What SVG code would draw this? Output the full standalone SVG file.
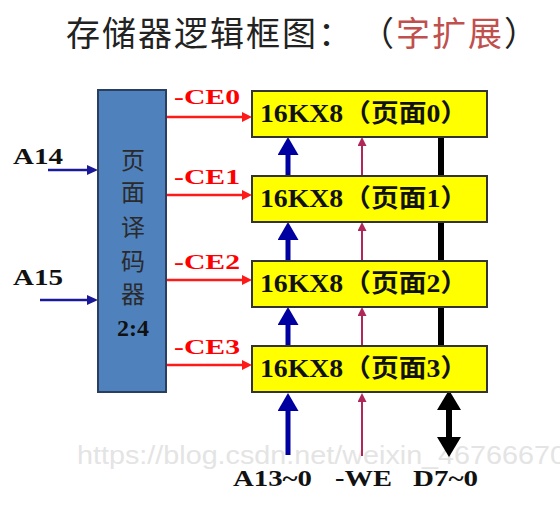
<svg xmlns="http://www.w3.org/2000/svg" width="560" height="513" viewBox="0 0 560 513">
<defs>
<style>
.cjk{font-family:"Noto Sans CJK SC","Noto Sans CJK JP",sans-serif;}
.lbl{font-family:"Liberation Serif","Times New Roman",serif;font-weight:bold;}
.mem{fill:#ffff00;stroke:#333333;stroke-width:2;}
.memtxt{font-family:"Liberation Serif","Noto Sans CJK SC",serif;font-weight:bold;font-size:25px;fill:#111;}
.ce{fill:#ff0000;font-size:21px;}
.sig{fill:#111;font-size:24px;}
.red{stroke:#ff1a1a;stroke-width:2.5;fill:none;}
.navy{stroke:#1a1a99;stroke-width:2.5;fill:none;}
.blue{stroke:#0000a0;stroke-width:5;fill:none;}
.crim{stroke:#b0285a;stroke-width:2;fill:none;}
.blk{stroke:#000;stroke-width:6;fill:none;}
</style>
<marker id="hRed" markerUnits="userSpaceOnUse" markerWidth="10" markerHeight="10" viewBox="0 0 10 10" refX="0" refY="5" orient="auto"><path d="M0,0 L10,5 L0,10 z" fill="#ff1a1a"/></marker>
<marker id="hNavy" markerUnits="userSpaceOnUse" markerWidth="11" markerHeight="10" viewBox="0 0 11 10" refX="0" refY="5" orient="auto"><path d="M0,0 L11,5 L0,10 z" fill="#1a1a99"/></marker>
<marker id="hBlue" markerUnits="userSpaceOnUse" markerWidth="18" markerHeight="21" viewBox="0 0 18 21" refX="0" refY="10.5" orient="auto"><path d="M0,0 L18,10.5 L0,21 z" fill="#0000a0"/></marker>
<marker id="hCrim" markerUnits="userSpaceOnUse" markerWidth="9" markerHeight="9" viewBox="0 0 9 9" refX="0" refY="4.5" orient="auto"><path d="M0,0 L9,4.5 L0,9 z" fill="#b0285a"/></marker>
<marker id="hBlk" markerUnits="userSpaceOnUse" markerWidth="20" markerHeight="24" viewBox="0 0 20 24" refX="0" refY="12" orient="auto-start-reverse"><path d="M0,0 L20,12 L0,24 z" fill="#000"/></marker>
</defs>
<rect width="560" height="513" fill="#ffffff"/>
<text x="77" y="464" font-family="'Liberation Sans',Arial,sans-serif" font-size="25" fill="#e4e4e4" textLength="489" lengthAdjust="spacingAndGlyphs">https://blog.csdn.net/weixin_46766670</text>
<g id="title">
<text x="66" y="46" class="cjk" font-size="34" letter-spacing="2" fill="#222">存储器逻辑框图：<tspan dx="23">（</tspan><tspan fill="#c0504d">字扩展</tspan>）</text>
</g>
<g id="connectors">
<line x1="48" y1="170" x2="87" y2="170" class="navy" marker-end="url(#hNavy)"/>
<line x1="40" y1="300" x2="87" y2="300" class="navy" marker-end="url(#hNavy)"/>
<line x1="166" y1="117" x2="242" y2="117" class="red" marker-end="url(#hRed)"/>
<line x1="166" y1="195" x2="242" y2="195" class="red" marker-end="url(#hRed)"/>
<line x1="166" y1="280" x2="242" y2="280" class="red" marker-end="url(#hRed)"/>
<line x1="166" y1="365" x2="242" y2="365" class="red" marker-end="url(#hRed)"/>
<line x1="288" y1="177" x2="288" y2="155" class="blue" marker-end="url(#hBlue)"/>
<line x1="288" y1="262" x2="288" y2="240" class="blue" marker-end="url(#hBlue)"/>
<line x1="288" y1="347" x2="288" y2="325" class="blue" marker-end="url(#hBlue)"/>
<line x1="288" y1="455" x2="288" y2="411" class="blue" stroke-width="6" marker-end="url(#hBlue)"/>
<line x1="362" y1="177" x2="362" y2="146" class="crim" marker-end="url(#hCrim)"/>
<line x1="362" y1="262" x2="362" y2="231" class="crim" marker-end="url(#hCrim)"/>
<line x1="362" y1="347" x2="362" y2="316" class="crim" marker-end="url(#hCrim)"/>
<line x1="362" y1="456" x2="362" y2="402" class="crim" marker-end="url(#hCrim)"/>
<line x1="441" y1="130" x2="441" y2="350" class="blk"/>
<line x1="449" y1="410" x2="449" y2="437" class="blk" marker-start="url(#hBlk)" marker-end="url(#hBlk)"/>
</g>
<g id="labels">
<text x="13" y="164" class="lbl sig" font-size="22" textLength="50" lengthAdjust="spacingAndGlyphs">A14</text>
<text x="13" y="285" class="lbl sig" font-size="22" textLength="50" lengthAdjust="spacingAndGlyphs">A15</text>
<text x="174" y="104" class="lbl ce" textLength="66" lengthAdjust="spacingAndGlyphs">-CE0</text>
<text x="174" y="184" class="lbl ce" textLength="66" lengthAdjust="spacingAndGlyphs">-CE1</text>
<text x="174" y="269" class="lbl ce" textLength="66" lengthAdjust="spacingAndGlyphs">-CE2</text>
<text x="174" y="354" class="lbl ce" textLength="66" lengthAdjust="spacingAndGlyphs">-CE3</text>
<text x="233" y="486" class="lbl sig" font-size="25" textLength="79" lengthAdjust="spacingAndGlyphs">A13~0</text>
<text x="335" y="486" class="lbl sig" font-size="25" textLength="57" lengthAdjust="spacingAndGlyphs">-WE</text>
<text x="413" y="486" class="lbl sig" font-size="25" textLength="65" lengthAdjust="spacingAndGlyphs">D7~0</text>
</g>
<g id="decoder">
<rect x="98" y="90" width="68" height="302" fill="#4f81bd" stroke="#2a3f5f" stroke-width="2"/>
<g class="cjk" font-size="24" fill="#2a2a2a" text-anchor="middle">
<text x="133" y="169">页</text>
<text x="133" y="201">面</text>
<text x="133" y="236">译</text>
<text x="133" y="270">码</text>
<text x="133" y="303">器</text>
</g>
<text x="133" y="336" class="lbl" font-size="24" fill="#111" text-anchor="middle">2:4</text>
</g>
<g id="page0"><rect x="252" y="91" width="235" height="46" class="mem"/><text x="260" y="122" class="memtxt" textLength="208" lengthAdjust="spacingAndGlyphs">16KX8（页面0）</text></g>
<g id="page1"><rect x="252" y="176" width="235" height="46" class="mem"/><text x="260" y="207" class="memtxt" textLength="208" lengthAdjust="spacingAndGlyphs">16KX8（页面1）</text></g>
<g id="page2"><rect x="252" y="261" width="235" height="46" class="mem"/><text x="260" y="292" class="memtxt" textLength="208" lengthAdjust="spacingAndGlyphs">16KX8（页面2）</text></g>
<g id="page3"><rect x="252" y="346" width="235" height="46" class="mem"/><text x="260" y="377" class="memtxt" textLength="208" lengthAdjust="spacingAndGlyphs">16KX8（页面3）</text></g>
</svg>
